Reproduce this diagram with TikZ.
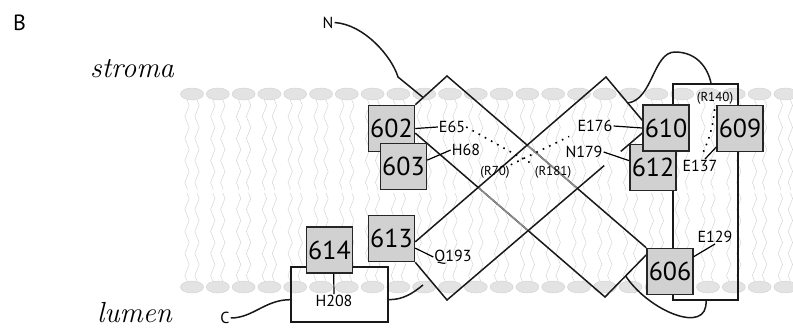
\documentclass[tikz,border=0pt]{standalone}
\usepackage{fontspec}
\setsansfont{PT Sans}
\usetikzlibrary{calc,intersections,decorations.pathmorphing}

\pgfdeclarelayer{lipid}
\pgfdeclarelayer{helix}
\pgfsetlayers{lipid,helix,main}

\begin{document}
\begin{tikzpicture}[x=1pt,y=-1pt,
  res/.style={draw=black!85,fill=black!18,line width=1.5pt,minimum size=46pt,inner sep=0pt,font=\sffamily\fontsize{26}{26}\selectfont},
  lab/.style={inner sep=1pt,font=\sffamily\fontsize{16}{16}\selectfont},
  arg/.style={inner sep=1pt,font=\sffamily\fontsize{13}{13}\selectfont},
  side/.style={font=\itshape\fontsize{29}{29}\selectfont,anchor=base west,inner sep=0pt},
  helix/.style={line width=1.5pt,draw=black!90},
  tie/.style={line width=1.2pt},
  salt/.style={line width=1.6pt,dash pattern=on 1.6pt off 5.5pt},
  head/.style={fill=black!11,draw=black!17,line width=0.5pt},
  tail/.style={draw=black!16,line width=0.5pt,decorate,decoration={zigzag,segment length=22pt,amplitude=2.2pt}}]
  \useasboundingbox (0,0) rectangle (793,330);

  % membrane
  \begin{pgfonlayer}{lipid}
    \foreach \i in {0,...,23}{
      \pgfmathsetmacro\x{192+25.8*\i}
      \draw[tail] (\x-5,100) -- (\x-5,190);
      \draw[tail] (\x+5,100) -- (\x+5,190);
      \draw[tail] (\x-5,281) -- (\x-5,193);
      \draw[tail] (\x+5,281) -- (\x+5,193);
      \draw[head] (\x,94) ellipse [x radius=11.5pt,y radius=6pt];
      \draw[head] (\x,287) ellipse [x radius=11.5pt,y radius=6pt];
    }
  \end{pgfonlayer}

  \node[font=\sffamily\fontsize{22}{22}\selectfont] (panel) at (19.5,22.5) {B};
  \node[side] (stroma) at (90,77) {stroma};
  \node[side] (lumen) at (97,322) {lumen};
  \node[lab] (nterm) at (328,22.5) {N};
  \node[lab] (cterm) at (225,318) {C};

  % helices drawn as boxes
  \node[helix,minimum width=65pt,minimum height=216pt,inner sep=0pt] (h9) at (705.5,192) {};
  \node[helix,minimum width=97pt,minimum height=55pt,inner sep=0pt] (hc) at (339.5,294.5) {};

  % residues
  \node[res] (b602) at (391.5,128.5) {602};
  \node[res] (b603) at (403.5,166.5) {603};
  \node[res] (b612) at (653,167.5) {612};
  \node[res] (b610) at (666,128) {610};
  \node[res] (b609) at (740,128.5) {609};
  \node[res] (b606) at (670,271.5) {606};
  \node[res] (b613) at (391.5,238.5) {613};
  \node[res] (b614) at (329.5,250) {614};

  \node[lab] (e65) at (452,127) {E65};
  \node[lab] (h68) at (466,150) {H68};
  \node[lab] (e176) at (595,126) {E176};
  \node[lab] (n179) at (584,152) {N179};
  \node[lab] (e137) at (700,166) {E137};
  \node[lab] (e129) at (715,237) {E129};
  \node[lab] (q193) at (453,257) {Q193};
  \node[lab] (h208) at (334,301) {H208};
  \node[arg] (r70) at (495,172) {(R70)};
  \node[arg] (r181) at (553,172) {(R181)};
  \node[arg] (r140) at (715,98) {(R140)};

  \coordinate (apexL) at (447,76);
  \coordinate (apexC) at (606,77);
  \coordinate (vL) at (447,300);
  \coordinate (vR) at (605,297);
  \coordinate (nBend) at (398,77);
  \coordinate (nEnd) at ($(b602.north east)!0.25!(apexL)$);
  \coordinate (loopS) at ($(apexC)!0.6!(b610.162)$);
  \coordinate (loopTop) at (675,52);
  \coordinate (loopL) at ($(vR)!0.5!(b606.145)$);
  \coordinate (cEnd) at (423,285);

  \begin{pgfonlayer}{helix}
    \path[name path=down1] (b602.-11) -- (vR);
    \path[name path=down2] (apexL) -- (b606.north west);
    \path[name path=up1] (b613.-8) -- (apexC);
    \path[name path=up2] (vL) -- (b610.192);
    \path[name intersections={of=down1 and up1,by=g1}];
    \path[name intersections={of=down1 and up2,by=g2}];
    \path[name intersections={of=down2 and up1,by=g3}];
    \path[name intersections={of=down2 and up2,by=g4}];
    \draw[helix] (b602.-11) -- (vR) -- (b606.145);
    \draw[helix] (b602.north east) -- (apexL) -- (b606.north west);
    \draw[helix,draw=black!45] (g1) -- (g2);
    \draw[helix,draw=black!45] (g3) -- (g4);
    \draw[helix] (b613.-8) -- (apexC) -- (b610.162);
    \draw[helix] (b613.south east) -- (vL) -- ($(vL)!0.805!(b610.192)$);
    \draw[helix] ($(vL)!0.89!(b610.192)$) -- (b610.192);
    % loops
    \draw[helix] (nterm.east) .. controls +(30,2) and +(-6,-20) .. (nBend) -- (nEnd);
    \draw[helix] (loopS) .. controls +(25,-3) and +(-22,0) .. (loopTop)
      .. controls +(22,0) and +(-3,-15) .. ($(h9.north)+(5.5,0)$);
    \draw[helix] (loopL) .. controls +(23,35) and +(2,35) .. ($(h9.south)+(0.5,0)$);
    \draw[helix] (cterm.east) .. controls +(22,0) and +(-25,0) .. (hc.186);
    \draw[helix] (hc.-6) .. controls +(15,0) and +(-10,8) .. (cEnd);
  \end{pgfonlayer}

  \draw[tie] (b602.east) -- (e65.west);
  \draw[tie] (b603.15) -- (h68.west);
  \draw[tie] (e176.east) -- (b610.west);
  \draw[tie] (n179.east) -- (b612.164);
  \draw[tie] ($(e137.north)+(5,0)$) -- (b609.218);
  \draw[tie] (b606.32) -- (e129.south);
  \draw[tie] (b613.-22) -- (q193.west);
  \draw[tie] (b614.-80) -- (h208.north);

  \draw[salt] (e65.east) -- (r181.north west);
  \draw[salt,shorten >=8pt] (r70.north east) -- (e176.south west);
  \draw[salt,shorten <=4pt,shorten >=3pt] (r140.south) to[bend left=10] (e137.north);
\end{tikzpicture}
\end{document}
